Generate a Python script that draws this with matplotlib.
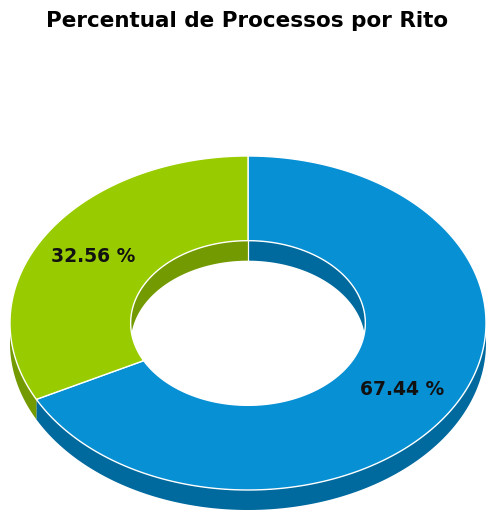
import numpy as np
import matplotlib.pyplot as plt
from matplotlib.patches import Polygon, Ellipse

# data
ritos = ['Rito A', 'Rito B']
percentuais = [67.44, 32.56]
cores_topo = ['#0890d4', '#99cc00']
cores_lado = ['#006a9e', '#739a00']

# geometry (pixels)
cx, cy = 248, 323
rx, ry = 238, 167
furo = 0.493
prof = 20
ang_ini = 90


def arco(a0, a1, sx, sy, dy=0, n=200):
    t = np.radians(np.linspace(a0, a1, n))
    return np.column_stack([cx + sx * np.cos(t), cy - sy * np.sin(t) + dy])


def intersecao(a, b, lo, hi):
    res = []
    for k in (-360, 0, 360):
        s, e = max(a + k, lo), min(b + k, hi)
        if e > s:
            res.append((s, e))
    return res


fig = plt.figure(figsize=(4.95, 5.18), dpi=100)
ax = fig.add_axes([0, 0, 1, 1])
ax.set_xlim(0, 495)
ax.set_ylim(518, 0)
ax.axis('off')

# slice angle ranges, clockwise from the top
fatias = []
a = ang_ini
for p in percentuais:
    span = p / 100 * 360
    fatias.append((a - span, a))
    a -= span

irx, iry = rx * furo, ry * furo

for (a0, a1), ct, cl in zip(fatias, cores_topo, cores_lado):
    # outer side wall (front half)
    for s, e in intersecao(a0, a1, 180, 360):
        top = arco(s, e, rx, ry)
        bot = arco(e, s, rx, ry, prof)
        ax.add_patch(Polygon(np.vstack([top, bot]), closed=True, fc=cl, ec='none', zorder=1))
    # inner wall (back half), clipped by the hole
    for s, e in intersecao(a0, a1, 0, 180):
        top = arco(s, e, irx, iry)
        bot = arco(e, s, irx, iry, prof)
        pg = Polygon(np.vstack([top, bot]), closed=True, fc=cl, ec='none', zorder=1.5)
        ax.add_patch(pg)
        hole = Ellipse((cx, cy), 2 * irx, 2 * iry, transform=ax.transData)
        pg.set_clip_path(hole)
    # top face
    outer = arco(a0, a1, rx, ry)
    inner = arco(a1, a0, irx, iry)
    ax.add_patch(Polygon(np.vstack([outer, inner]), closed=True, fc=ct,
                         ec='white', lw=1.0, zorder=2))

# seams on the inner wall
for a0, a1 in fatias:
    for ang in (a0, a1):
        ang = ang % 360
        if 0 < ang < 180:
            x = cx + irx * np.cos(np.radians(ang))
            y = cy - iry * np.sin(np.radians(ang))
            ax.plot([x, x], [y, y + prof], color='white', lw=0.8, zorder=1.6)

# labels
for (a0, a1), p in zip(fatias, percentuais):
    m = np.radians((a0 + a1) / 2)
    ax.text(cx + 0.76 * rx * np.cos(m), cy - 0.76 * ry * np.sin(m),
            '{:.2f} %'.format(p), ha='center', va='center',
            fontsize=13.5, fontweight='bold', color='#111111', zorder=3)

ax.text(247, 21, 'Percentual de Processos por Rito', ha='center', va='center',
        fontsize=15.5, fontweight='bold', color='black')

fig.savefig('out.png', dpi=100)
